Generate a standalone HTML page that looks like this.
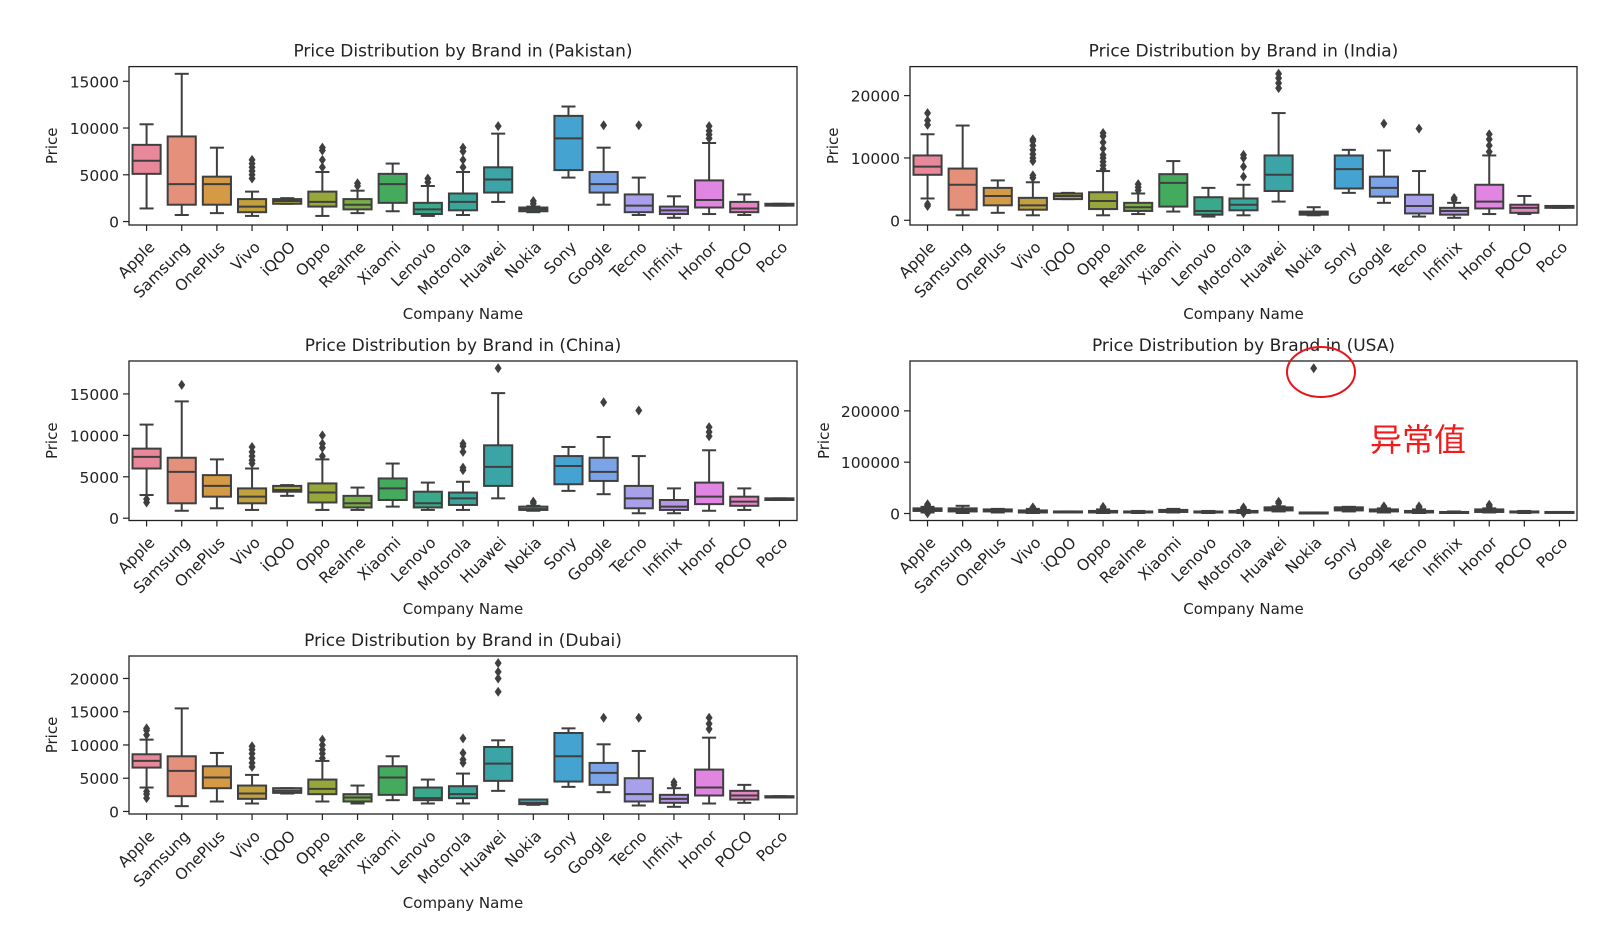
<!DOCTYPE html>
<html><head><meta charset="utf-8"><style>
html,body{margin:0;padding:0;background:#fff;}
svg{display:block;}
text{font-family:"DejaVu Sans","Liberation Sans","Noto Sans CJK SC",sans-serif;fill:#222;}
</style></head><body>
<svg id="chart" width="1624" height="928" viewBox="0 0 1624 928" xmlns="http://www.w3.org/2000/svg">
<g id="plots"></g>
<ellipse cx="1321" cy="372" rx="34" ry="25" fill="none" stroke="#e8141c" stroke-width="2"/>
<text x="1370" y="451" style="font-family:'Noto Sans CJK SC',sans-serif;font-size:32px;fill:#f21a1a;">异常值</text>
</svg>
<script>
const brands = ["Apple","Samsung","OnePlus","Vivo","iQOO","Oppo","Realme","Xiaomi","Lenovo","Motorola","Huawei","Nokia","Sony","Google","Tecno","Infinix","Honor","POCO","Poco"];
const colors = ["#e8889a","#e5907a","#d49a45","#c2a23f","#aca63a","#98a73a","#7aae47","#44ab5e","#3aa88a","#3aa69a","#3ba4a6","#3ea5b8","#44a3d0","#7ba4e8","#a9a0ea","#b797e4","#e185e2","#e486c6","#e38aa6"];
// values in thousands
const pkLow=[1.4,0.7,0.9,0.6,1.9,0.6,0.9,1.1,0.6,0.7,2.1,1.0,4.7,1.8,0.7,0.4,0.8,0.7,1.7];
const pkQ1=[5.1,1.8,1.8,1.0,1.9,1.6,1.3,2.0,0.8,1.2,3.1,1.1,5.5,3.1,1.0,0.8,1.5,1.0,1.7];
const pkMed=[6.5,4.0,4.0,1.6,2.2,2.1,1.8,4.0,1.3,2.1,4.5,1.3,8.9,4.0,1.7,1.2,2.3,1.4,1.8];
const pkQ3=[8.2,9.1,4.8,2.4,2.4,3.2,2.4,5.1,2.0,3.0,5.8,1.5,11.3,5.3,2.9,1.6,4.4,2.1,1.9];
const pkHigh=[10.4,15.8,7.9,3.2,2.5,5.3,3.3,6.2,3.8,5.3,9.4,1.6,12.3,7.9,4.7,2.7,8.4,2.9,1.9];
const pkOut=[[],[],[],[4.6,5.0,5.4,5.8,6.2,6.6],[],[5.8,6.6,7.6,7.9],[3.8,4.1],[],[4.2,4.6],[5.8,6.6,7.5,7.9],[10.2],[1.9,2.2],[],[10.3],[10.3],[],[8.9,9.3,9.7,10.2],[],[]];
const pkTicks=[0,5,10,15];

const inLow=[3.5,0.8,1.2,0.8,3.4,0.8,1.0,1.4,0.6,0.8,3.0,0.8,4.4,2.8,0.6,0.4,1.0,1.0,2.0];
const inQ1=[7.3,1.7,2.4,1.7,3.4,1.8,1.5,2.2,0.9,1.6,4.7,0.9,5.1,3.8,1.1,0.9,1.9,1.2,2.0];
const inMed=[8.6,5.7,3.9,2.4,3.9,3.1,2.1,6.0,1.5,2.5,7.3,1.1,8.2,5.2,2.3,1.5,3.0,2.0,2.2];
const inQ3=[10.4,8.3,5.2,3.6,4.3,4.5,2.8,7.4,3.7,3.5,10.4,1.4,10.4,7.0,4.1,2.0,5.7,2.5,2.3];
const inHigh=[13.8,15.2,6.4,6.1,4.4,7.9,4.3,9.5,5.2,5.7,17.2,2.1,11.3,11.2,7.9,2.8,10.4,3.9,2.3];
const inOut=[[2.3,2.6,15.3,16.0,17.2],[],[],[6.8,7.2,9.5,10.0,10.6,11.3,12.0,12.7,13.0],[],[8.2,8.8,9.4,10.0,10.5,11.5,12.5,13.5,14.0],[4.8,5.3,5.8],[],[],[7.0,8.6,10.0,10.5],[21.2,22.0,22.8,23.5],[],[],[15.5],[14.7],[3.3,3.6],[11.0,12.0,13.0,13.8],[],[]];
const inTicks=[0,10,20];

const cnLow=[2.8,0.9,1.2,1.0,2.7,1.0,1.0,1.4,1.0,1.0,2.4,0.9,3.3,2.9,0.6,0.6,0.9,1.0,2.2];
const cnQ1=[6.0,1.8,2.6,1.8,3.2,1.9,1.3,2.2,1.3,1.6,3.9,1.0,4.1,4.5,1.2,1.0,1.7,1.5,2.2];
const cnMed=[7.4,5.6,3.9,2.6,3.4,3.1,1.8,3.6,1.8,2.4,6.2,1.1,6.3,5.6,2.4,1.4,2.6,2.0,2.3];
const cnQ3=[8.4,7.3,5.2,3.6,3.9,4.2,2.7,4.8,3.2,3.1,8.8,1.4,7.5,7.3,3.9,2.2,4.3,2.6,2.4];
const cnHigh=[11.3,14.1,7.1,6.0,4.0,7.1,3.7,6.6,4.3,4.4,15.1,1.5,8.6,9.8,7.5,3.6,8.2,3.6,2.4];
const cnOut=[[1.9,2.3],[16.1],[],[6.6,7.0,7.5,8.0,8.6],[],[7.5,8.5,9.0,10.0],[],[],[],[5.8,6.1,8.0,8.7,9.0],[18.1],[1.8,2.0],[],[14.0],[13.0],[],[9.9,10.4,11.0],[],[]];
const cnTicks=[0,5,10,15];

const usLow=[2,1,2,1,3,1,1,2,1,1,4,1,4,2,1,1,2,1,2];
const usQ1=[5,4,4,2,3,2,2,3,2,2,6,1,6,4,2,1,3,2,2];
const usMed=[8,7,6,4,4,3,3,5,3,3,9,1,9,6,3,2,5,3,2];
const usQ3=[10,10,8,6,4,5,4,7,4,5,12,2,12,8,5,3,8,4,3];
const usHigh=[13,15,9,9,4,8,5,9,5,7,14,2,13,10,8,4,10,5,3];
const usOut=[[0.5,16,18],[],[],[11,12],[],[11,13],[],[],[],[0.5,10,12],[20,23],[283],[],[12,14],[12,14],[],[14,17],[],[]];
const usTicks=[0,100,200];

const dbLow=[3.6,0.8,1.5,1.2,2.7,1.5,1.2,1.7,1.2,1.2,3.1,1.0,3.7,2.9,0.9,0.7,1.2,1.3,2.1];
const dbQ1=[6.6,2.3,3.5,1.9,2.8,2.6,1.5,2.5,1.7,2.0,4.6,1.1,4.5,4.0,1.5,1.3,2.4,1.8,2.1];
const dbMed=[7.6,6.1,5.1,2.7,3.1,3.4,2.1,5.1,2.0,2.6,7.2,1.3,8.3,5.8,2.6,1.9,3.6,2.4,2.2];
const dbQ3=[8.6,8.3,6.8,3.9,3.5,4.8,2.6,6.8,3.6,3.8,9.7,1.8,11.8,7.3,5.0,2.5,6.3,3.1,2.3];
const dbHigh=[10.8,15.5,8.8,5.5,3.5,7.6,3.9,8.3,4.8,5.7,10.7,1.8,12.5,10.1,9.1,3.5,11.1,4.0,2.3];
const dbOut=[[2.0,2.6,3.0,11.5,12.2,12.5],[],[],[6.7,7.3,8.0,8.7,9.3,9.8],[],[8.0,8.7,9.3,10.0,10.8],[],[],[],[7.3,7.8,8.8,11.0],[18.0,20.0,21.0,22.3],[],[],[14.1],[14.1],[4.0,4.4],[12.4,13.2,14.1],[],[]];
const dbTicks=[0,5,10,15,20];

const NS="http://www.w3.org/2000/svg";
const root=document.getElementById('plots');
function mk(tag,attrs,parent){const e=document.createElementNS(NS,tag);for(const k in attrs)e.setAttribute(k,attrs[k]);(parent||root).appendChild(e);return e;}

function drawPanel(p){
  const g=mk('g',{});
  
  
  const {x0,x1,y0,y1}=p;
  let mn=Infinity,mx=-Infinity;
  for(let i=0;i<brands.length;i++){
    const vals=[p.low[i],p.high[i]].concat(p.out[i]);
    for(const v of vals){mn=Math.min(mn,v);mx=Math.max(mx,v);}
  }
  const pad=(mx-mn)*0.05, lo=mn-pad, hi=mx+pad;
  const yS=v=>y1-(v-lo)/(hi-lo)*(y1-y0);
  const bw=(x1-x0)/brands.length;
  const xS=i=>x0+bw*(i+0.5);
  const t=mk('text',{x:(x0+x1)/2,y:y0-10,'text-anchor':'middle','font-size':'17'},g);
  t.textContent=p.title;
  
  
  for(const tv of p.ticks){
    const yy=yS(tv);
    mk('line',{x1:x0-6,x2:x0,y1:yy,y2:yy,stroke:'#222','stroke-width':1.2},g);
    const tl=mk('text',{x:x0-10,y:yy+6,'text-anchor':'end','font-size':'15.5'},g);
    tl.textContent=String(tv*1000);
    
    
  }
  const yl=mk('text',{x:0,y:0,'text-anchor':'middle','font-size':'15',transform:`translate(${p.ylx},${(y0+y1)/2}) rotate(-90)`},g);
  yl.textContent='Price';
  
  
  const lc='#3f3f3f';
  for(let i=0;i<brands.length;i++){
    const cx=xS(i), w=bw*0.8, cap=w*0.5;
    const bg=mk('g',{},g);
    
    
    mk('line',{x1:cx,x2:cx,y1:yS(p.high[i]),y2:yS(p.q3[i]),stroke:lc,'stroke-width':2},bg);
    mk('line',{x1:cx,x2:cx,y1:yS(p.q1[i]),y2:yS(p.low[i]),stroke:lc,'stroke-width':2},bg);
    mk('line',{x1:cx-cap/2,x2:cx+cap/2,y1:yS(p.high[i]),y2:yS(p.high[i]),stroke:lc,'stroke-width':2},bg);
    mk('line',{x1:cx-cap/2,x2:cx+cap/2,y1:yS(p.low[i]),y2:yS(p.low[i]),stroke:lc,'stroke-width':2},bg);
    const top=yS(p.q3[i]), bot=yS(p.q1[i]);
    mk('rect',{x:cx-w/2,y:top,width:w,height:Math.max(bot-top,1),fill:colors[i],stroke:lc,'stroke-width':2},bg);
    mk('line',{x1:cx-w/2,x2:cx+w/2,y1:yS(p.med[i]),y2:yS(p.med[i]),stroke:lc,'stroke-width':2},bg);
    for(const o of p.out[i]){
      const oy=yS(o);
      mk('path',{d:`M${cx},${oy-5} L${cx+3.5},${oy} L${cx},${oy+5} L${cx-3.5},${oy} Z`,fill:lc},bg);
    }
    mk('line',{x1:cx,x2:cx,y1:y1,y2:y1+6,stroke:'#222','stroke-width':1.2},g);
    const xl=mk('text',{x:0,y:0,'text-anchor':'end','font-size':'15.5',transform:`translate(${cx+9},${y1+23}) rotate(-45)`},g);
    xl.textContent=brands[i];
    
    
  }
  mk('rect',{x:x0,y:y0,width:x1-x0,height:y1-y0,fill:'none',stroke:'#222','stroke-width':1.3},g);
  const xt=mk('text',{x:(x0+x1)/2,y:p.xly,'text-anchor':'middle','font-size':'15'},g);
  xt.textContent='Company Name';
  
  
}

const L={x0:129,x1:797}, R={x0:910,x1:1577};
drawPanel({key:'pakistan',title:'Price Distribution by Brand in (Pakistan)',x0:L.x0,x1:L.x1,y0:66.6,y1:225,ylx:57,xly:319,low:pkLow,q1:pkQ1,med:pkMed,q3:pkQ3,high:pkHigh,out:pkOut,ticks:pkTicks});
drawPanel({key:'india',title:'Price Distribution by Brand in (India)',x0:R.x0,x1:R.x1,y0:66.6,y1:225,ylx:838,xly:319,low:inLow,q1:inQ1,med:inMed,q3:inQ3,high:inHigh,out:inOut,ticks:inTicks});
drawPanel({key:'china',title:'Price Distribution by Brand in (China)',x0:L.x0,x1:L.x1,y0:361,y1:520.5,ylx:57,xly:614,low:cnLow,q1:cnQ1,med:cnMed,q3:cnQ3,high:cnHigh,out:cnOut,ticks:cnTicks});
drawPanel({key:'usa',title:'Price Distribution by Brand in (USA)',x0:R.x0,x1:R.x1,y0:361,y1:520.5,ylx:829,xly:614,low:usLow,q1:usQ1,med:usMed,q3:usQ3,high:usHigh,out:usOut,ticks:usTicks});
drawPanel({key:'dubai',title:'Price Distribution by Brand in (Dubai)',x0:L.x0,x1:L.x1,y0:656,y1:814,ylx:57,xly:908,low:dbLow,q1:dbQ1,med:dbMed,q3:dbQ3,high:dbHigh,out:dbOut,ticks:dbTicks});
</script>
</body></html>
